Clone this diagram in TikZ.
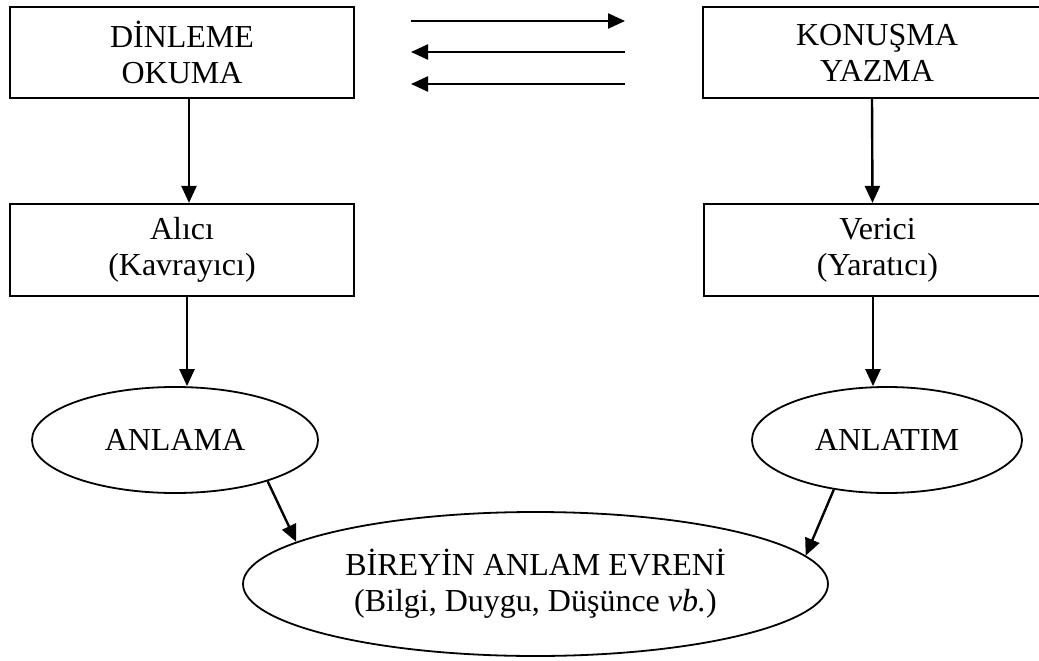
\documentclass[tikz,border=0pt]{standalone}
\usepackage{fontspec}
\setmainfont{Liberation Serif}
\usetikzlibrary{arrows.meta,shapes.geometric}
\begin{document}
\begin{tikzpicture}[x=1pt,y=-1pt,
  every node/.style={font=\fontsize{32}{36}\selectfont, align=center, inner sep=0pt},
  boxnode/.style={draw, line width=2.2pt, rectangle},
  ellnode/.style={draw, line width=1.8pt, ellipse},
  arr/.style={line width=2.4pt, -{Triangle[length=17pt,width=15pt]}}]
\useasboundingbox (0,0) rectangle (1039,661);
\clip (0,0) rectangle (1039,661);
% boxes
\node[boxnode, minimum width=344pt, minimum height=91pt] (b1) at (182,52.5) {DİNLEME\\OKUMA};
\node[boxnode, minimum width=348pt, minimum height=91pt] (b2) at (877,52.5) {KONUŞMA\\YAZMA};
\node[boxnode, minimum width=344pt, minimum height=92pt] (b3) at (182,250) {Alıcı\\(Kavrayıcı)};
\node[boxnode, minimum width=347pt, minimum height=92pt] (b4) at (877.5,250) {Verici\\(Yaratıcı)};
% ellipses
\node[ellnode, minimum width=286pt, minimum height=106pt] (e1) at (175,440) {ANLAMA};
\node[ellnode, minimum width=270pt, minimum height=106pt] (e2) at (887,440) {ANLATIM};
\node[ellnode, minimum width=585pt, minimum height=144pt] (e3) at (535.5,584) {BİREYİN ANLAM EVRENİ\\(Bilgi, Duygu, Düşünce \textit{vb.})};
% top arrows
\coordinate (r1s) at (411,21);
\coordinate (r1e) at (625,21);
\coordinate (l1s) at (625,52);
\coordinate (l1e) at (411,52);
\coordinate (l2s) at (625,84);
\coordinate (l2e) at (411,84);
\draw[arr] (r1s) -- (r1e);
\draw[arr] (l1s) -- (l1e);
\draw[arr] (l2s) -- (l2e);
% vertical arrows
\draw[arr] ([xshift=7pt]b1.south) -- ([xshift=7pt]b3.north);
\draw[arr] ([xshift=-5pt]b2.south) -- ([xshift=-5pt]b4.north);
\draw[arr] ([xshift=5pt]b3.south) -- ([xshift=12pt]e1.north);
\draw[arr] ([xshift=-4.5pt]b4.south) -- ([xshift=-14pt]e2.north);
% to the big ellipse
\draw[arr] (e1.-24) -- (e3.170);
\draw[arr] (e2.223) -- (e3.6);
\end{tikzpicture}
\end{document}
